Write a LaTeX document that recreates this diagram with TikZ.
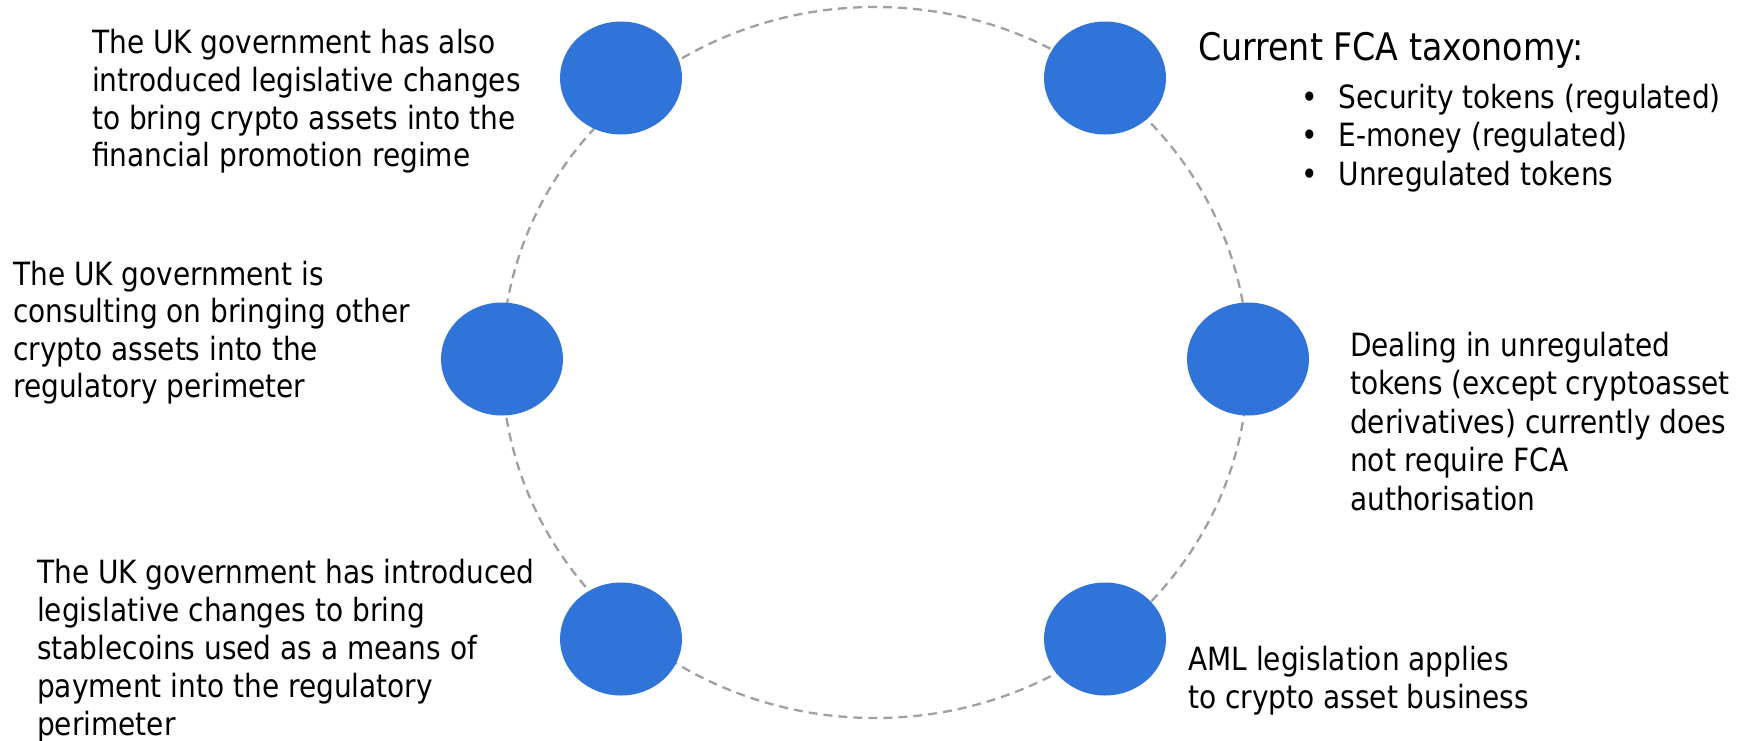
\documentclass[tikz,border=0pt]{standalone}
\usepackage{fontspec}
\setmainfont{DejaVu Sans}[FakeStretch=0.875]
\usetikzlibrary{shapes.geometric}
\definecolor{dotblue}{HTML}{3174D9}
\definecolor{ringgray}{HTML}{A0A0A0}
\begin{document}
\begin{tikzpicture}[x=1pt, y=-1pt,
  ring/.style={draw=ringgray, line width=2.3pt, dash pattern=on 9pt off 6pt},
  dot/.style={ellipse, fill=dotblue, draw=none, minimum width=122pt, minimum height=113pt, inner sep=0pt},
  txt/.style={anchor=base west, inner sep=0pt, font=\fontsize{32}{37.8}\selectfont},
  title/.style={anchor=base west, inner sep=0pt, font=\fontsize{38}{45}\selectfont}]
\useasboundingbox (0,0) rectangle (1747,740);
\coordinate (c) at (875,362.5);
\draw[ring] (c) ellipse [x radius=373, y radius=355.5];
% blue dots
\node[dot] (tl) at (621,78) {};
\node[dot] (tr) at (1105,78) {};
\node[dot] (ml) at (502,359) {};
\node[dot] (mr) at (1248,359) {};
\node[dot] (bl) at (621,639) {};
\node[dot] (br) at (1105,639) {};
% texts
\node[txt] (ttl) at (92,53.5) {\begin{tabular}[t]{@{}l@{}}The UK government has also\\introduced legislative changes\\to bring crypto assets into the\\financial promotion regime\end{tabular}};
\node[txt, font=\fontsize{32}{37.5}\selectfont] (tml) at (13,285) {\begin{tabular}[t]{@{}l@{}}The UK government is\\consulting on bringing other\\crypto assets into the\\regulatory perimeter\end{tabular}};
\node[txt, font=\fontsize{32}{38.2}\selectfont] (tbl) at (37,583) {\begin{tabular}[t]{@{}l@{}}The UK government has introduced\\legislative changes to bring\\stablecoins used as a means of\\payment into the regulatory\\perimeter\end{tabular}};
\node[title] (ttr) at (1198,60) {Current FCA taxonomy:};
\node[txt, font=\fontsize{32}{38.5}\selectfont] (list) at (1301,108) {\begin{tabular}[t]{@{}l@{\hspace{21pt}}l@{}}\textbullet & Security tokens (regulated)\\\textbullet & E-money (regulated)\\\textbullet & Unregulated tokens\end{tabular}};
\node[txt, font=\fontsize{32}{38.5}\selectfont] (tmr) at (1350,356) {\begin{tabular}[t]{@{}l@{}}Dealing in unregulated\\tokens (except cryptoasset\\derivatives) currently does\\not require FCA\\authorisation\end{tabular}};
\node[txt, font=\fontsize{32}{38}\selectfont] (tbr) at (1188,670) {\begin{tabular}[t]{@{}l@{}}AML legislation applies\\to crypto asset business\end{tabular}};
\end{tikzpicture}
\end{document}
